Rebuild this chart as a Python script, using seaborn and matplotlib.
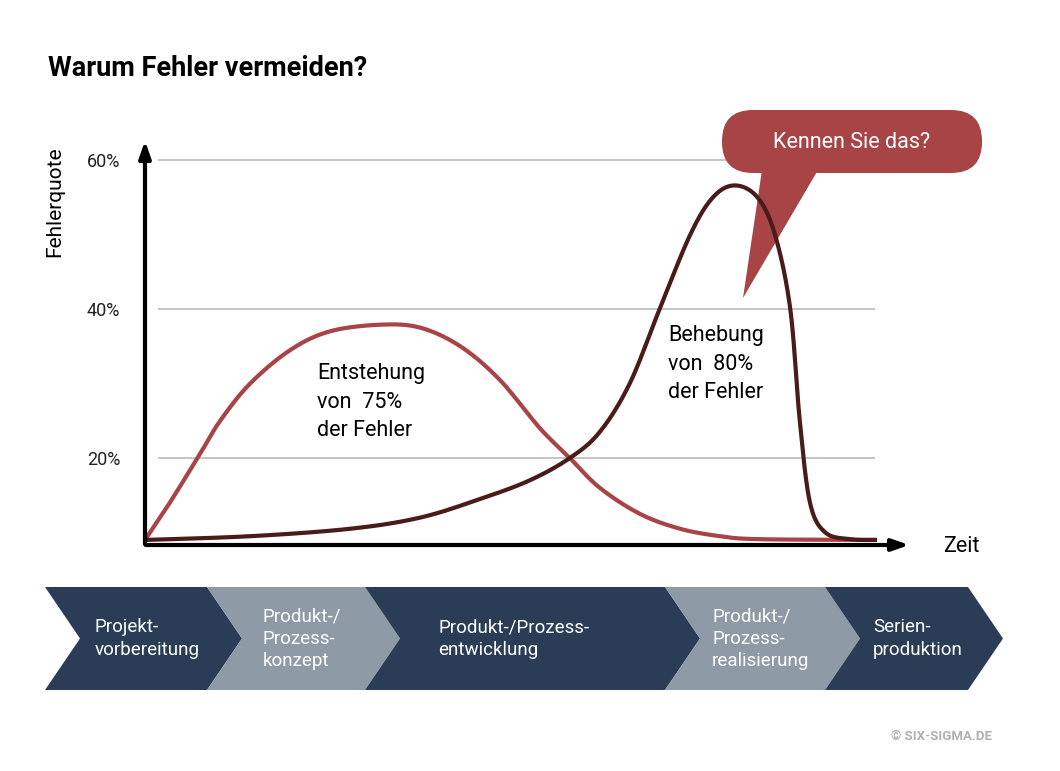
import numpy as np
import pandas as pd
import matplotlib
matplotlib.use("Agg")
import matplotlib.pyplot as plt
import seaborn as sns
from matplotlib.patches import Polygon, FancyBboxPatch

plt.rcParams["font.family"] = "Roboto"

# ---- data (x in time units 0..100, y in %) ----
red_x = [0, 3.4, 7.5, 10.3, 14.4, 19.9, 25.3, 32.2, 37.7, 43.2, 48.6, 54.1, 58.2, 62.3, 67.8, 73.3, 78.8, 84.2, 100]
red_y = [9, 14, 20.5, 25, 30, 34.5, 37, 37.9, 37.5, 35, 30.5, 24, 20, 16, 12.5, 10.5, 9.5, 9.1, 9]
dark_x = [0, 14.4, 28.1, 37.7, 45.9, 52.7, 58.2, 62.3, 66.4, 70.5, 74.7, 77.8, 80.8, 83.9, 86.3, 88.4, 89.7, 91.1, 93.2, 96.6, 100]
dark_y = [9, 9.5, 10.5, 12, 14.5, 17, 20, 23.5, 30, 40, 50, 55, 56.6, 55, 50, 40, 25, 14, 10, 9.1, 9]
y_ticks = [20, 40, 60]
y_labels = ["20%", "40%", "60%"]
phases = ["Projekt-\nvorbereitung", "Produkt-/\nProzess-\nkonzept", "Produkt-/Prozess-\nentwicklung",
          "Produkt-/\nProzess-\nrealisierung", "Serien-\nproduktion"]

RED = "#a84446"
DARK = "#4a1b1b"
NAVY = "#2b3d56"
GRAY = "#8f9aa7"


def smooth(xs, ys, n=20):
    """Catmull-Rom curve through the read points (rendering only)."""
    P = np.column_stack([xs, ys]).astype(float)
    P = np.vstack([P[0], P, P[-1]])
    out = []
    t = np.linspace(0, 1, n, endpoint=False)[:, None]
    for i in range(1, len(P) - 2):
        p0, p1, p2, p3 = P[i - 1], P[i], P[i + 1], P[i + 2]
        out.append(0.5 * ((2 * p1) + (-p0 + p2) * t + (2 * p0 - 5 * p1 + 4 * p2 - p3) * t ** 2
                          + (-p0 + 3 * p1 - 3 * p2 + p3) * t ** 3))
    out.append(P[-2][None, :])
    a = np.vstack(out)
    return pd.DataFrame({"x": a[:, 0], "y": a[:, 1]})


W, H = 1060, 771
fig = plt.figure(figsize=(W / 100, H / 100), dpi=100)
fig.patch.set_facecolor("white")

ov = fig.add_axes([0, 0, 1, 1], zorder=0)
ov.set_xlim(0, W)
ov.set_ylim(H, 0)
ov.axis("off")

ax = fig.add_axes([145 / W, (H - 545) / H, (910 - 145) / W, (545 - 140) / H], zorder=5)
ax.patch.set_alpha(0)
ax.set_xlim(0, 104.8)
ax.set_ylim(8.32, 62.7)
# gridlines drawn in background layer (under the speech bubble), in data coords
ov.hlines(y_ticks, 1.8, 100, color="#bbbbbb", lw=1.2, zorder=0, transform=ax.transData)
sns.lineplot(data=smooth(red_x, red_y), x="x", y="y", ax=ax, color=RED, lw=3, zorder=3, sort=False)
sns.lineplot(data=smooth(dark_x, dark_y), x="x", y="y", ax=ax, color=DARK, lw=3, zorder=3, sort=False)
ax.set_yticks(y_ticks)
ax.set_yticklabels(y_labels, fontsize=13, color="#222")
ax.tick_params(length=0, pad=18)
ax.set_xticks([])
ax.set_xlabel("")
ax.set_ylabel("")
for s in ax.spines.values():
    s.set_visible(False)

top = fig.add_axes([0, 0, 1, 1], zorder=10)
top.set_xlim(0, W)
top.set_ylim(H, 0)
top.axis("off")
top.patch.set_alpha(0)
top.annotate("", xy=(145, 138), xytext=(145, 547),
             arrowprops=dict(arrowstyle="-|>,head_width=0.35,head_length=1.0", color="black", lw=3))
top.annotate("", xy=(912, 545), xytext=(143, 545),
             arrowprops=dict(arrowstyle="-|>,head_width=0.35,head_length=1.0", color="black", lw=3))

ov.text(48, 68, "Warum Fehler vermeiden?", fontsize=19.5, fontweight="bold", va="center", ha="left")
ov.text(55, 202, "Fehlerquote", fontsize=15, rotation=90, va="center", ha="center")
ov.text(943, 547, "Zeit", fontsize=15.5, va="center", ha="left")
ov.text(317, 402, "Entstehung\nvon  75%\nder Fehler", fontsize=15.5, va="center", ha="left", linespacing=1.45)
ov.text(668, 364, "Behebung\nvon  80%\nder Fehler", fontsize=15.5, va="center", ha="left", linespacing=1.45)

ov.add_patch(FancyBboxPatch((722, 110), 260, 63, boxstyle="round,pad=0,rounding_size=31",
                            fc=RED, ec="none", zorder=2))
ov.add_patch(Polygon([(762, 170), (818, 170), (743, 298)], closed=True, fc=RED, ec="none", zorder=2))
ov.text(852, 142, "Kennen Sie das?", fontsize=15.5, color="white", ha="center", va="center", zorder=3)

segs = [(45, 207, NAVY), (207, 365, GRAY), (365, 665, NAVY), (665, 825, GRAY), (825, 968, NAVY)]
tx = [95, 263, 438, 712, 873]
for (a, b, c), label, t in zip(segs, phases, tx):
    ov.add_patch(Polygon([(a, 587), (b, 587), (b + 35, 638.5), (b, 690), (a, 690), (a + 35, 638.5)],
                         closed=True, fc=c, ec="none"))
    ov.text(t, 638.5, label, color="white", fontsize=13.5, ha="left", va="center", linespacing=1.3)

ov.text(992, 737, "© SIX-SIGMA.DE", fontsize=9.5, fontweight="bold", color="#b0b0b0", ha="right", va="center")

fig.savefig("out.png", dpi=100)
